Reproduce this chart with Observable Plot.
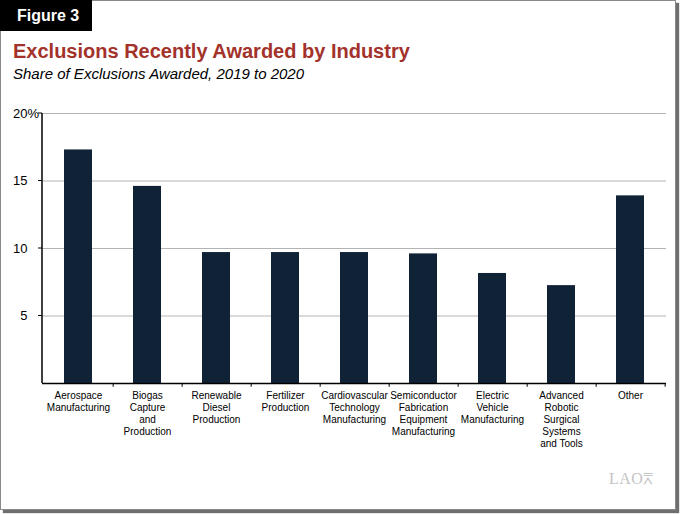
<!DOCTYPE html>
<html>
<head>
<meta charset="utf-8">
<script src="https://cdn.jsdelivr.net/npm/d3@7"></script>
<script src="https://cdn.jsdelivr.net/npm/@observablehq/plot@0.6"></script>
<style>
  html, body { margin: 0; padding: 0; background: #fff; }
  #wrap { position: relative; width: 680px; height: 514px; overflow: hidden; font-family: "Liberation Sans", Arial, Helvetica, sans-serif; background:#fff; }
  #frame { position: absolute; left: 0; top: 0; width: 674px; height: 508px; border: 1px solid #8a8a8a; box-shadow: 3px 3px 1px #6e6e6e; background: #fff; }
  #fig { position: absolute; left: 0; top: 0; width: 92px; height: 31px; background: #000; color: #fff; font-weight: bold; font-size: 16px; line-height: 31px; padding-left: 17px; box-sizing: border-box; }
  #title { position: absolute; left: 13px; top: 40px; font-size: 20px; font-weight: bold; color: #a3322b; white-space: nowrap; }
  #subtitle { position: absolute; left: 13px; top: 65px; font-size: 15px; font-style: italic; color: #000; white-space: nowrap; }
  #chart { position: absolute; left: 0; top: 100px; }
  #logo { position: absolute; left: 609px; top: 470px; font-family: "Liberation Serif", "DejaVu Serif", serif; font-size: 16px; color: #c4c4c4; letter-spacing: 0.5px; }
</style>
</head>
<body>
<div id="wrap">
  <div id="frame"></div>
  <div id="fig">Figure 3</div>
  <div id="title">Exclusions Recently Awarded by Industry</div>
  <div id="subtitle">Share of Exclusions Awarded, 2019 to 2020</div>
  <div id="chart"></div>
  <div id="logo">LAO&#x2A5E;</div>
</div>
<script>
const categories = [
  "Aerospace Manufacturing",
  "Biogas Capture and Production",
  "Renewable Diesel Production",
  "Fertilizer Production",
  "Cardiovascular Technology Manufacturing",
  "Semiconductor Fabrication Equipment Manufacturing",
  "Electric Vehicle Manufacturing",
  "Advanced Robotic Surgical Systems and Tools",
  "Other"
];
const categoryLabels = [
  "Aerospace\nManufacturing",
  "Biogas\nCapture\nand\nProduction",
  "Renewable\nDiesel\nProduction",
  "Fertilizer\nProduction",
  "Cardiovascular\nTechnology\nManufacturing",
  "Semiconductor\nFabrication\nEquipment\nManufacturing",
  "Electric\nVehicle\nManufacturing",
  "Advanced\nRobotic\nSurgical\nSystems\nand Tools",
  "Other"
];
const shares = [17.3, 14.6, 9.7, 9.7, 9.7, 9.6, 8.15, 7.25, 13.9];
const yTicks = [5, 10, 15, 20];
const yTickLabels = ["5", "10", "15", "20"];

const data = categories.map((c, i) => ({category: c, value: shares[i]}));
const labelOf = new Map(categories.map((c, i) => [c, categoryLabels[i]]));

const W = 680, H = 380, ML = 42, MR = 14, MT = 13, MB = 97;
const step = (W - ML - MR) / categories.length;

const chart = Plot.plot({
  width: W,
  height: H,
  marginLeft: ML,
  marginRight: MR,
  marginTop: MT,
  marginBottom: MB,
  style: {fontFamily: '"Liberation Sans", Arial, Helvetica, sans-serif', background: "transparent", overflow: "visible"},
  x: {domain: categories, paddingInner: 0.6, paddingOuter: 0.3, axis: null, label: null},
  y: {domain: [0, 20], axis: null, label: null},
  marks: [
    Plot.ruleY(yTicks, {stroke: "#b3b3b3", strokeWidth: 1}),
    Plot.barY(data, {x: "category", y: "value", fill: "#0f2236"}),
    Plot.axisX({tickSize: 0, tickPadding: 7, fontSize: 10, lineHeight: 1.2, label: null, tickFormat: d => labelOf.get(d), fill: "#000"}),
    Plot.ruleX(categories, {x: d => d, dx: step / 2, y1: 0, y2: -0.28, stroke: "#000", strokeWidth: 1}),
    Plot.ruleY([0], {stroke: "#000", strokeWidth: 1.5}),
    Plot.text(yTicks, {y: d => d, text: (d, i) => yTickLabels[i], frameAnchor: "left", dx: -15, textAnchor: "end", fontSize: 13, fill: "#000"}),
    Plot.text([20], {y: d => d, text: () => "%", frameAnchor: "left", dx: -15, textAnchor: "start", fontSize: 13, fill: "#000"})
  ]
});
document.getElementById("chart").appendChild(chart);

// y axis line and small outward ticks, positioned with the Plot y scale
const yScale = chart.scale("y");
const svg = d3.select(chart);
svg.append("line").attr("x1", ML).attr("x2", ML).attr("y1", yScale.apply(20)).attr("y2", yScale.apply(0)).attr("stroke", "#000").attr("stroke-width", 1.5);
svg.selectAll("line.yt").data(yTicks).join("line").attr("class", "yt")
  .attr("x1", ML - 4).attr("x2", ML).attr("y1", d => yScale.apply(d)).attr("y2", d => yScale.apply(d)).attr("stroke", "#000");
</script>
</body>
</html>
